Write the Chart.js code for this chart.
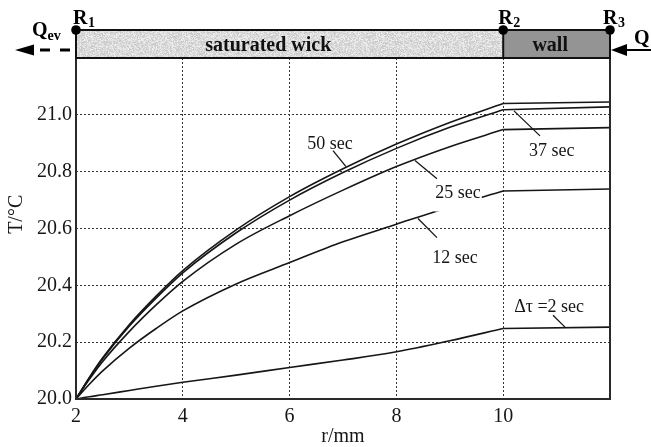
<!DOCTYPE html>
<html>
<head>
<meta charset="utf-8">
<script src="https://cdn.jsdelivr.net/npm/chart.js@4/dist/chart.umd.min.js"></script>
<style>
  html, body { margin: 0; padding: 0; background: #fff; }
  #wrap { width: 651px; height: 447px; }
</style>
</head>
<body>
<div id="wrap"><canvas id="c" width="651" height="447"></canvas></div>
<script>
// Radial positions (mm) and temperature profiles (°C) after each time step
const radius = [2, 2.25, 2.5, 3, 3.5, 4, 5, 6, 7, 8, 9, 10, 12];
const temp50s = [20.00, 20.076, 20.145, 20.262, 20.362, 20.452, 20.595, 20.712, 20.810, 20.897, 20.973, 21.040, 21.045];
const temp37s = [20.00, 20.074, 20.142, 20.257, 20.355, 20.444, 20.585, 20.700, 20.797, 20.882, 20.956, 21.018, 21.028];
const temp25s = [20.00, 20.069, 20.132, 20.238, 20.331, 20.414, 20.545, 20.645, 20.735, 20.818, 20.888, 20.948, 20.955];
const temp12s = [20.00, 20.052, 20.099, 20.179, 20.248, 20.310, 20.405, 20.480, 20.553, 20.615, 20.676, 20.732, 20.739];
const temp2s = [20.00, 20.008, 20.015, 20.030, 20.045, 20.059, 20.084, 20.111, 20.137, 20.166, 20.205, 20.248, 20.253];

const seriesNames = ['50 sec', '37 sec', '25 sec', '12 sec', 'Δτ =2 sec'];
const seriesValues = [temp50s, temp37s, temp25s, temp12s, temp2s];

// Layer boundaries (mm): R1 evaporating surface, R2 wick/wall interface, R3 outer wall
const boundaries = [2, 10, 12];
const boundaryNames = ['1', '2', '3'];
const layerNames = ['saturated wick', 'wall'];

const xTickValues = [2, 4, 6, 8, 10];
const yTickValues = [20.0, 20.2, 20.4, 20.6, 20.8, 21.0];

const SERIF = "'Liberation Serif', 'Times New Roman', serif";
const INK = '#161616';

// each profile is drawn as a smooth wick part and a straight wall part
const wallStart = radius.indexOf(boundaries[1]);
function points(values, from, to) {
  return radius.slice(from, to).map((r, i) => ({ x: r, y: values[from + i] }));
}
const datasets = [];
seriesValues.forEach((vals, k) => {
  datasets.push({
    label: seriesNames[k],
    data: points(vals, 0, wallStart + 1),
    cubicInterpolationMode: 'monotone',
    borderColor: INK, borderWidth: 1.6, pointRadius: 0, fill: false
  });
  datasets.push({
    label: seriesNames[k] + ' (wall)',
    data: points(vals, wallStart, radius.length),
    tension: 0,
    borderColor: INK, borderWidth: 1.6, pointRadius: 0, fill: false
  });
});

// grainy fill for the porous wick layer
function makeGrain() {
  const w = 97, h = 29;
  const c = document.createElement('canvas');
  c.width = w; c.height = h;
  const g = c.getContext('2d');
  const img = g.createImageData(w, h);
  for (let j = 0; j < h; j++) {
    for (let i = 0; i < w; i++) {
      const s = Math.sin(i * 12.9898 + j * 78.233) * 43758.5453;
      const f = s - Math.floor(s);
      const v = 198 + Math.round(f * 42);
      const p = (j * w + i) * 4;
      img.data[p] = v; img.data[p + 1] = v; img.data[p + 2] = v; img.data[p + 3] = 255;
    }
  }
  g.putImageData(img, 0, 0);
  return c;
}

// curve captions: baseline-centre position and leader line, in data units
const captions = [
  { text: seriesNames[0], x: 6.757, y: 20.881, from: [6.813, 20.874], to: [7.056, 20.818] },
  { text: seriesNames[1], x: 10.91, y: 20.856, from: [10.202, 21.014], to: [10.689, 20.926] },
  { text: seriesNames[2], x: 9.154, y: 20.709, from: [8.348, 20.839], to: [8.760, 20.775], knockout: true },
  { text: seriesNames[3], x: 9.097, y: 20.477, from: [8.404, 20.635], to: [8.760, 20.568] },
  { text: seriesNames[4], x: 10.86, y: 20.305, from: [10.933, 20.295], to: [11.157, 20.253] }
];

const decorations = {
  id: 'decorations',
  afterDraw(chart) {
    const { ctx, chartArea: a, scales: { x, y } } = chart;
    ctx.save();

    // plot frame
    ctx.strokeStyle = '#2a2a2a';
    ctx.lineWidth = 2;
    ctx.setLineDash([]);
    ctx.beginPath();
    ctx.moveTo(a.left, a.top);
    ctx.lineTo(a.left, a.bottom);
    ctx.lineTo(a.right, a.bottom);
    ctx.lineTo(a.right, a.top);
    ctx.stroke();

    // layer band above the plot
    const bandH = 28;
    const bandTop = a.top - bandH;
    const bx = boundaries.map(b => x.getPixelForValue(b));
    ctx.fillStyle = ctx.createPattern(makeGrain(), 'repeat');
    ctx.fillRect(bx[0], bandTop, bx[1] - bx[0], bandH);
    ctx.fillStyle = '#949494';
    ctx.fillRect(bx[1], bandTop, bx[2] - bx[1], bandH);
    ctx.strokeStyle = '#111';
    ctx.lineWidth = 2;
    ctx.strokeRect(bx[0], bandTop, bx[2] - bx[0], bandH);
    ctx.beginPath();
    ctx.moveTo(bx[1], bandTop);
    ctx.lineTo(bx[1], a.top);
    ctx.stroke();

    ctx.fillStyle = '#111';
    ctx.font = `bold 20px ${SERIF}`;
    ctx.textAlign = 'center';
    ctx.textBaseline = 'alphabetic';
    ctx.fillText(layerNames[0], x.getPixelForValue(5.6), bandTop + 21);
    ctx.fillText(layerNames[1], x.getPixelForValue(10.88), bandTop + 21);

    // boundary markers R1, R2, R3
    const rShift = [-3, -5, -7];
    bx.forEach((px, i) => {
      ctx.beginPath();
      ctx.arc(px, bandTop, 4.8, 0, Math.PI * 2);
      ctx.fillStyle = '#000';
      ctx.fill();
      ctx.textAlign = 'left';
      ctx.font = `bold 20px ${SERIF}`;
      const left = px + rShift[i];
      ctx.fillText('R', left, bandTop - 6);
      const rw = ctx.measureText('R').width;
      ctx.font = `bold 14px ${SERIF}`;
      ctx.fillText(boundaryNames[i], left + rw + 0.5, bandTop - 3);
    });

    // evaporative heat flow leaving the wick (dashed, pointing left)
    const arrowY = bandTop + 20;
    ctx.fillStyle = '#000';
    ctx.beginPath();
    ctx.moveTo(15, arrowY);
    ctx.lineTo(34, arrowY - 5.5);
    ctx.lineTo(34, arrowY + 5.5);
    ctx.closePath();
    ctx.fill();
    ctx.strokeStyle = '#000';
    ctx.lineWidth = 3;
    ctx.setLineDash([10, 10]);
    ctx.beginPath();
    ctx.moveTo(bx[0] - 6, arrowY);
    ctx.lineTo(34, arrowY);
    ctx.stroke();
    ctx.setLineDash([]);
    ctx.textAlign = 'left';
    ctx.font = `bold 20px ${SERIF}`;
    ctx.fillText('Q', 32, bandTop + 6);
    const qw = ctx.measureText('Q').width;
    ctx.font = `bold 14px ${SERIF}`;
    ctx.fillText('ev', 32 + qw, bandTop + 10);

    // heat input at the outer wall (pointing left)
    ctx.beginPath();
    ctx.moveTo(bx[2] + 1, arrowY);
    ctx.lineTo(bx[2] + 17, arrowY - 6);
    ctx.lineTo(bx[2] + 17, arrowY + 6);
    ctx.closePath();
    ctx.fill();
    ctx.lineWidth = 2;
    ctx.beginPath();
    ctx.moveTo(bx[2] + 15, arrowY);
    ctx.lineTo(chart.width, arrowY);
    ctx.stroke();
    ctx.font = `bold 20px ${SERIF}`;
    ctx.fillText('Q', 634, bandTop + 14);

    // curve captions with leader lines
    ctx.font = `18px ${SERIF}`;
    ctx.textAlign = 'center';
    captions.forEach(c => {
      const px = x.getPixelForValue(c.x);
      const py = y.getPixelForValue(c.y);
      const w = ctx.measureText(c.text).width;
      if (c.knockout) {
        ctx.fillStyle = '#fff';
        ctx.fillRect(px - w / 2 - 1, py - 14, w + 2, 28);
      }
      ctx.fillStyle = INK;
      ctx.fillText(c.text, px, py);
      ctx.strokeStyle = INK;
      ctx.lineWidth = 1.3;
      ctx.beginPath();
      ctx.moveTo(x.getPixelForValue(c.from[0]), y.getPixelForValue(c.from[1]));
      ctx.lineTo(x.getPixelForValue(c.to[0]), y.getPixelForValue(c.to[1]));
      ctx.stroke();
    });

    // axis titles
    ctx.fillStyle = INK;
    ctx.font = `20px ${SERIF}`;
    ctx.textAlign = 'center';
    ctx.textBaseline = 'middle';
    ctx.fillText('r/mm', (a.left + a.right) / 2, 437);
    ctx.save();
    ctx.translate(17, y.getPixelForValue(20.65));
    ctx.rotate(-Math.PI / 2);
    ctx.fillText('T/°C', 0, 0);
    ctx.restore();

    ctx.restore();
  }
};

const gridColor = (edgeA, edgeB) => (c) => {
  const v = c.tick ? c.tick.value : null;
  return (Math.abs(v - edgeA) < 1e-6 || Math.abs(v - edgeB) < 1e-6) ? 'rgba(0,0,0,0)' : '#333333';
};

new Chart(document.getElementById('c'), {
  type: 'line',
  data: { datasets },
  options: {
    responsive: false,
    devicePixelRatio: 1,
    animation: false,
    layout: { padding: { left: 12, right: 41, top: 58, bottom: 0 } },
    plugins: { legend: { display: false }, tooltip: { enabled: false } },
    scales: {
      x: {
        type: 'linear',
        min: 2, max: 12,
        afterFit: s => { s.height = 48; },
        afterBuildTicks: s => { s.ticks = xTickValues.concat([12]).map(v => ({ value: v })); },
        ticks: {
          color: INK,
          font: { family: SERIF, size: 20 },
          padding: 6,
          maxRotation: 0,
          autoSkip: false,
          callback: v => (xTickValues.includes(v) ? String(v) : '')
        },
        grid: { color: gridColor(2, 12), lineWidth: 1, drawTicks: false },
        border: { display: false, dash: [2, 2] }
      },
      y: {
        type: 'linear',
        min: 20.0, max: 21.2,
        afterFit: s => { s.width = 64; },
        afterBuildTicks: s => { s.ticks = yTickValues.concat([21.2]).map(v => ({ value: v })); },
        ticks: {
          color: INK,
          font: { family: SERIF, size: 20 },
          padding: 4,
          autoSkip: false,
          callback: v => (v < 21.1 ? v.toFixed(1) : '')
        },
        grid: { color: gridColor(20.0, 21.2), lineWidth: 1, drawTicks: false },
        border: { display: false, dash: [2, 2] }
      }
    }
  },
  plugins: [decorations]
});
</script>
</body>
</html>
